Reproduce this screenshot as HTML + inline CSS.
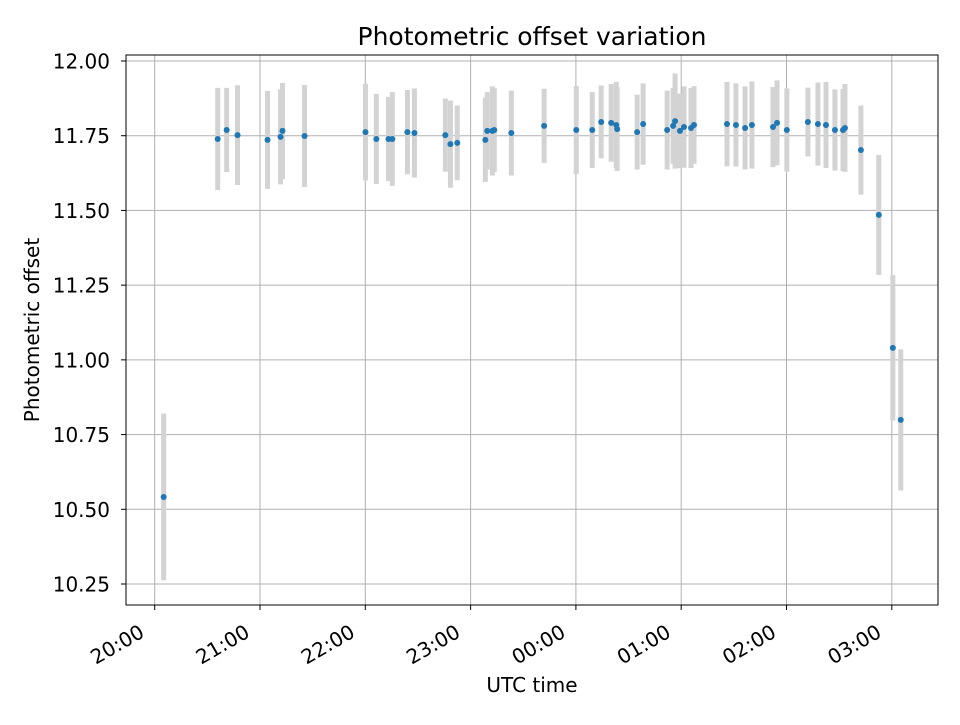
<!DOCTYPE html>
<html><head><meta charset="utf-8"><style>body{margin:0;background:#fff}svg{font-family:"DejaVu Sans","Liberation Sans",sans-serif}</style></head>
<body>
<svg id="chart" width="960" height="720"></svg>
<script>
const minutes=[5.1,35.9,41.0,47.2,64.3,71.7,72.8,85.4,120.1,126.3,133.2,135.4,144.0,148.0,165.6,168.5,172.4,188.4,189.5,192.4,193.5,203.2,221.9,240.2,249.3,254.4,260.1,263.0,263.5,274.9,278.3,292.0,295.4,296.5,299.3,301.6,305.6,307.3,326.1,331.2,336.4,340.3,352.3,354.6,360.2,372.2,377.9,382.5,387.6,392.2,393.3,402.4,412.6,420.6,425.1];
const values=[10.541,11.739,11.769,11.752,11.736,11.746,11.766,11.749,11.762,11.739,11.739,11.739,11.762,11.759,11.752,11.722,11.726,11.736,11.766,11.766,11.769,11.759,11.783,11.769,11.769,11.796,11.793,11.786,11.772,11.762,11.789,11.769,11.783,11.799,11.766,11.779,11.776,11.786,11.789,11.786,11.776,11.786,11.779,11.793,11.769,11.796,11.789,11.786,11.769,11.769,11.776,11.702,11.485,11.040,10.799];
const errors=[0.279,0.171,0.141,0.167,0.164,0.159,0.161,0.171,0.162,0.151,0.141,0.157,0.141,0.149,0.122,0.146,0.125,0.141,0.130,0.149,0.14,0.142,0.124,0.147,0.127,0.122,0.130,0.144,0.14,0.125,0.136,0.132,0.127,0.159,0.125,0.136,0.134,0.13,0.141,0.139,0.139,0.146,0.134,0.142,0.139,0.115,0.139,0.144,0.136,0.137,0.147,0.149,0.201,0.243,0.236];
const yTicks=[10.25,10.50,10.75,11.00,11.25,11.50,11.75,12.00];
const xTickHours=[0,1,2,3,4,5,6,7];
const xTickLabels=["20:00","21:00","22:00","23:00","00:00","01:00","02:00","03:00"];
const L=126,R=938,T=55,B=605;
const xs=m=>154.7+m*105.3/60;
const ys=v=>61+(12-v)*298.86;
const svg=document.getElementById('chart');
const NS='http://www.w3.org/2000/svg';
function mk(tag,attrs,parent){const e=document.createElementNS(NS,tag);for(const k in attrs)e.setAttribute(k,attrs[k]);(parent||svg).appendChild(e);return e;}
const grid=mk('g',{});


xTickHours.forEach(h=>{mk('line',{x1:xs(h*60),x2:xs(h*60),y1:T,y2:B,stroke:'#b0b0b0','stroke-width':1},grid);});
yTicks.forEach(v=>{mk('line',{x1:L,x2:R,y1:ys(v),y2:ys(v),stroke:'#b0b0b0','stroke-width':1},grid);});
const eb=mk('g',{});


minutes.forEach((m,i)=>{const l=mk('line',{x1:xs(m),x2:xs(m),y1:ys(values[i]+errors[i]),y2:ys(values[i]-errors[i]),stroke:'#d3d3d3','stroke-width':5},eb);

});
const pts=mk('g',{});


minutes.forEach((m,i)=>{const c=mk('circle',{cx:xs(m),cy:ys(values[i]),r:3,fill:'#1f77b4'},pts);

});
const frame=mk('rect',{x:L,y:T,width:R-L,height:B-T,fill:'none',stroke:'#000','stroke-width':1});


const yax=mk('g',{});


yTicks.forEach(v=>{mk('line',{x1:L-5,x2:L,y1:ys(v),y2:ys(v),stroke:'#000'},yax);
const t=mk('text',{x:L-16,y:ys(v)+7.5,'text-anchor':'end','font-size':20},yax);t.textContent=v.toFixed(2);

});
const xax=mk('g',{});


xTickHours.forEach((h,i)=>{const x=xs(h*60);mk('line',{x1:x,x2:x,y1:B,y2:B+5,stroke:'#000'},xax);
const ax=x-9, ay=B+31;
const t=mk('text',{x:ax,y:ay,'text-anchor':'end','font-size':20,transform:`rotate(-30 ${ax} ${ay})`},xax);t.textContent=xTickLabels[i];

});
const title=mk('text',{x:532,y:45,'text-anchor':'middle','font-size':25});title.textContent='Photometric offset variation';


const xt=mk('text',{x:532,y:692,'text-anchor':'middle','font-size':20});xt.textContent='UTC time';


const yt=mk('text',{x:39,y:330,'text-anchor':'middle','font-size':20,transform:'rotate(-90 39 330)'});yt.textContent='Photometric offset';


</script>
</body></html>
